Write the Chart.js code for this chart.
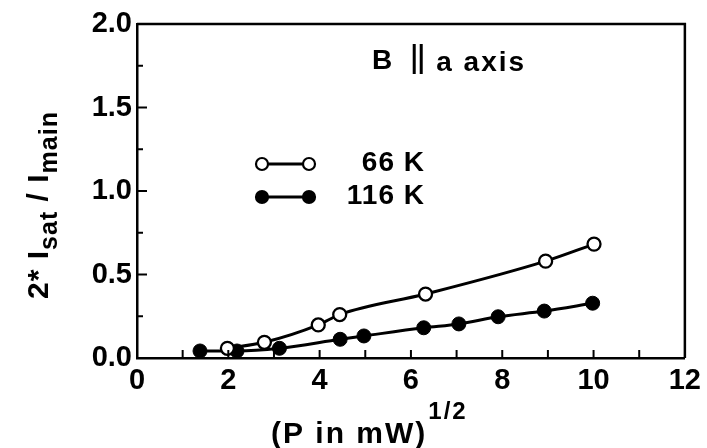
<!DOCTYPE html>
<html>
<head>
<meta charset="utf-8">
<script src="https://cdn.jsdelivr.net/npm/chart.js@4/dist/chart.umd.min.js"></script>
<style>
  html, body { margin: 0; padding: 0; background: #fff; }
  #wrap { width: 707px; height: 448px; position: relative; }
</style>
</head>
<body>
<div id="wrap"><canvas id="c" width="707" height="448"></canvas></div>
<script>
// ---- data ----
const seriesNames = ['66 K', '116 K'];
const x66 = [1.98, 2.79, 3.97, 4.44, 6.32, 8.95, 10.01];
const y66 = [0.058, 0.094, 0.198, 0.26, 0.383, 0.58, 0.682];
const x116 = [1.38, 2.19, 3.12, 4.45, 4.97, 6.28, 7.05, 7.91, 8.92, 9.98];
const y116 = [0.042, 0.042, 0.058, 0.112, 0.132, 0.181, 0.204, 0.247, 0.281, 0.328];
const xTickLabels = [0, 2, 4, 6, 8, 10, 12];
const yTickLabels = [0.0, 0.5, 1.0, 1.5, 2.0];
const annotationText = ['B', '||', 'a axis'];
const xTitle = '(P in mW)';
const xTitleSup = '1/2';

const FONT = '"Liberation Sans", Arial, sans-serif';

function pts(xs, ys) { return xs.map((x, i) => ({ x: x, y: ys[i] })); }
function setLS(ctx, v) { if ('letterSpacing' in ctx) ctx.letterSpacing = v + 'px'; }

const decor = {
  id: 'decor',
  afterDraw(chart) {
    const ctx = chart.ctx;
    const a = chart.chartArea;
    const xs = chart.scales.x, ys = chart.scales.y;
    ctx.save();
    ctx.strokeStyle = '#000';
    ctx.fillStyle = '#000';
    // frame top/right
    ctx.lineWidth = 2.5;
    ctx.beginPath();
    ctx.moveTo(a.left, a.top); ctx.lineTo(a.right, a.top); ctx.lineTo(a.right, a.bottom);
    ctx.stroke();
    // inward ticks
    ctx.lineWidth = 2;
    for (let v = 1; v < 12; v++) {
      const px = xs.getPixelForValue(v);
      ctx.beginPath(); ctx.moveTo(px, a.bottom); ctx.lineTo(px, a.bottom - 8); ctx.stroke();
    }
    for (let k = 1; k < 8; k++) {
      const v = k * 0.25;
      const py = ys.getPixelForValue(v);
      const len = (k % 2 === 0) ? 10 : 6;
      ctx.beginPath(); ctx.moveTo(a.left, py); ctx.lineTo(a.left + len, py); ctx.stroke();
    }
    // y title with subscripts
    ctx.save();
    ctx.translate(40, 205);
    ctx.rotate(-Math.PI / 2);
    const runs = [
      { t: '2* I', s: 30, dy: 0 },
      { t: 'sat', s: 25, dy: 9 },
      { t: ' / I', s: 30, dy: 0 },
      { t: 'main', s: 25, dy: 9 }
    ];
    setLS(ctx, 1);
    let total = 0;
    runs.forEach(r => { ctx.font = 'bold ' + r.s + 'px ' + FONT; r.w = ctx.measureText(r.t).width; total += r.w; });
    let cx = -total / 2;
    ctx.textBaseline = 'alphabetic';
    ctx.textAlign = 'left';
    runs.forEach(r => {
      ctx.font = 'bold ' + r.s + 'px ' + FONT;
      ctx.fillText(r.t, cx, 8 + r.dy);
      cx += r.w;
    });
    setLS(ctx, 0);
    ctx.restore();
    // x title with superscript
    ctx.font = 'bold 30px ' + FONT;
    ctx.textAlign = 'left';
    ctx.textBaseline = 'alphabetic';
    setLS(ctx, 2);
    const w1 = ctx.measureText(xTitle).width;
    const xStart = 271;
    ctx.fillText(xTitle, xStart, 443);
    ctx.font = 'bold 24px ' + FONT;
    ctx.fillText(xTitleSup, xStart + w1 + 1, 419);
    setLS(ctx, 0);
    // annotation
    ctx.font = 'bold 28px ' + FONT;
    ctx.textBaseline = 'middle';
    let ax = 372;
    ctx.fillText(annotationText[0], ax, 61);
    ax += ctx.measureText(annotationText[0]).width + 22;
    ctx.lineWidth = 3;
    ctx.beginPath();
    ctx.moveTo(ax, 44); ctx.lineTo(ax, 74);
    ctx.moveTo(ax + 7, 44); ctx.lineTo(ax + 7, 74);
    ctx.stroke();
    ax += 22;
    setLS(ctx, 2);
    ctx.fillText(annotationText[2], ax, 63);
    setLS(ctx, 0);
    // legend
    const rows = [{ y: 164, ds: chart.data.datasets[0] }, { y: 197, ds: chart.data.datasets[1] }];
    rows.forEach(r => {
      ctx.lineWidth = 3;
      ctx.strokeStyle = '#000';
      ctx.beginPath(); ctx.moveTo(262, r.y); ctx.lineTo(309, r.y); ctx.stroke();
      [262, 309].forEach(px => {
        ctx.beginPath();
        ctx.arc(px, r.y, 6, 0, Math.PI * 2);
        ctx.fillStyle = r.ds.pointBackgroundColor;
        ctx.fill();
        ctx.lineWidth = 2.2;
        ctx.stroke();
      });
      ctx.fillStyle = '#000';
      ctx.font = 'bold 28px ' + FONT;
      ctx.textAlign = 'right';
      ctx.textBaseline = 'middle';
      setLS(ctx, 1);
      ctx.fillText(r.ds.label, 425, r.y - 1);
      setLS(ctx, 0);
    });
    ctx.restore();
  }
};

new Chart(document.getElementById('c'), {
  type: 'scatter',
  data: {
    datasets: [
      {
        label: seriesNames[0],
        data: pts(x66, y66),
        showLine: true,
        borderColor: '#000',
        borderWidth: 3,
        cubicInterpolationMode: 'monotone',
        pointRadius: 6.5,
        pointBorderWidth: 2.3,
        pointBackgroundColor: '#fff',
        pointBorderColor: '#000'
      },
      {
        label: seriesNames[1],
        data: pts(x116, y116),
        showLine: true,
        borderColor: '#000',
        borderWidth: 3,
        cubicInterpolationMode: 'monotone',
        pointRadius: 7,
        pointBorderWidth: 1,
        pointBackgroundColor: '#000',
        pointBorderColor: '#000'
      }
    ]
  },
  options: {
    responsive: false,
    animation: false,
    devicePixelRatio: 1,
    layout: { padding: { top: 24, right: 21, left: 0, bottom: 0 } },
    plugins: { legend: { display: false }, tooltip: { enabled: false } },
    scales: {
      x: {
        type: 'linear', min: 0, max: 12,
        afterFit(s) { s.height = 90; },
        grid: { display: false, drawTicks: false },
        border: { display: true, color: '#000', width: 2.5 },
        ticks: {
          stepSize: 1, autoSkip: false, maxRotation: 0, padding: 6, color: '#000',
          font: { family: FONT, size: 29, weight: 'bold' },
          callback: v => xTickLabels.includes(v) ? String(v) : ''
        }
      },
      y: {
        type: 'linear', min: 0, max: 2,
        afterFit(s) { s.width = 137; },
        grid: { display: false, drawTicks: false },
        border: { display: true, color: '#000', width: 2.5 },
        ticks: {
          stepSize: 0.25, autoSkip: false, padding: 5, color: '#000',
          font: { family: FONT, size: 29, weight: 'bold' },
          callback: v => yTickLabels.some(t => Math.abs(t - v) < 1e-9) ? v.toFixed(1) : ''
        }
      }
    }
  },
  plugins: [decor]
});
</script>
</body>
</html>
